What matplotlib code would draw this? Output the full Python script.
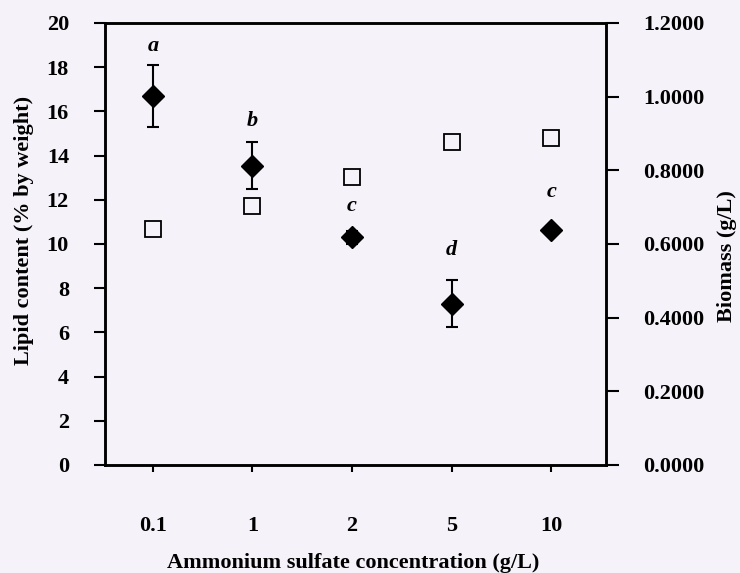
import numpy as np
import matplotlib.pyplot as plt
from matplotlib.ticker import FormatStrFormatter

# data
conc = ['0.1', '1', '2', '5', '10']
lipid = [16.7, 13.55, 10.3, 7.3, 10.65]
lipid_err = [1.4, 1.07, 0.3, 1.05, 0.15]
biomass = [0.641, 0.703, 0.781, 0.876, 0.889]
letters = ['a', 'b', 'c', 'd', 'c']
letter_y = [18.96, 15.58, 11.74, 9.71, 12.33]

plt.rcParams['font.family'] = 'Liberation Serif'
plt.rcParams['font.weight'] = 'bold'
bg = '#f5f2f9'

fig = plt.figure(figsize=(7.4, 5.73), dpi=100, facecolor=bg)
ax = fig.add_axes([0.1419, 0.1885, 0.677, 0.7714])
ax.set_facecolor(bg)
ax2 = ax.twinx()

x = np.arange(len(conc))
ax.errorbar(x, lipid, yerr=lipid_err, fmt='D', color='black', ms=11.5,
            capsize=4, elinewidth=1.5, capthick=1.5, zorder=3)
ax2.plot(x, biomass, 's', ms=11, mfc='none', mec='black', mew=1.3)

for xi, t, ly in zip(x, letters, letter_y):
    ax.text(xi, ly, t, ha='center', va='center', fontsize=16,
            fontstyle='italic', fontweight='bold')

ax.set_xlim(-0.48, 4.55)
ax.set_ylim(0, 20)
ax.set_yticks(np.arange(0, 21, 2))
ax2.set_ylim(0, 1.2)
ax2.set_yticks(np.arange(0, 1.21, 0.2))
ax2.yaxis.set_major_formatter(FormatStrFormatter('%.4f'))
ax.set_xticks(x)
ax.set_xticklabels(conc)

for a in (ax, ax2):
    for s in a.spines.values():
        s.set_linewidth(1.8)
ax.tick_params(axis='y', direction='out', length=8, width=1.5, labelsize=16, pad=18)
ax.tick_params(axis='x', direction='out', length=5, width=1.5, labelsize=16, pad=32)
ax2.tick_params(axis='y', direction='out', length=9, width=1.5, labelsize=16, pad=18)

ax.set_xlabel('Ammonium sulfate concentration (g/L)', fontsize=16,
              fontweight='bold')
ax.xaxis.set_label_coords(0.495, -0.199)
ax.set_ylabel('Lipid content (% by weight)', fontsize=16, fontweight='bold')
ax.yaxis.set_label_coords(-0.142, 0.53)
ax2.set_ylabel('Biomass (g/L)', fontsize=16, fontweight='bold')
ax2.yaxis.set_label_coords(1.222, 0.473)

fig.savefig('out.png', dpi=100, facecolor=bg)
